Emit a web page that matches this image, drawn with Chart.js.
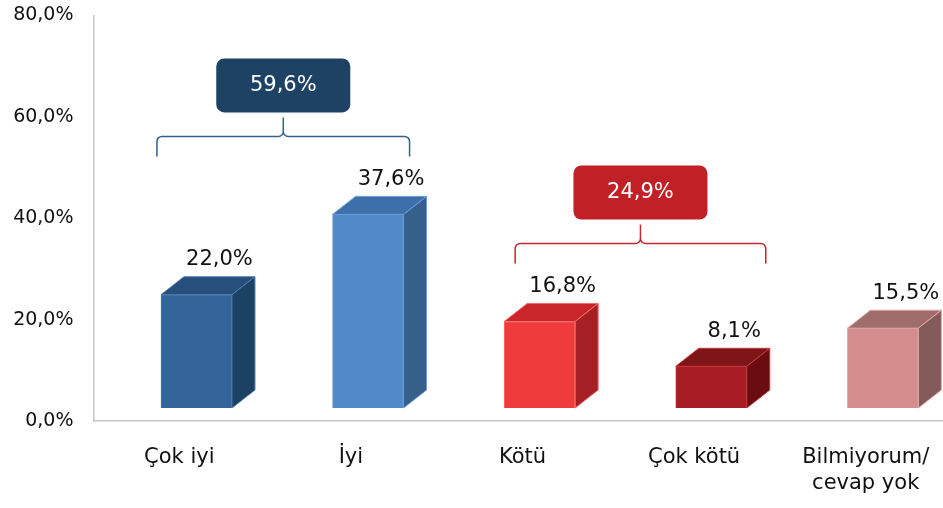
<!DOCTYPE html>
<html>
<head>
<meta charset="utf-8">
<script src="https://cdn.jsdelivr.net/npm/chart.js@4/dist/chart.umd.min.js"></script>
<style>
    html, body { margin: 0; padding: 0; background: #fff; overflow: hidden; }
    #wrap { width: 960px; height: 508px; }
</style>
</head>
<body>
<div id="wrap"><canvas id="chart"></canvas></div>
<script>
const CATEGORIES = ['Çok iyi', 'İyi', 'Kötü', 'Çok kötü', ['Bilmiyorum/', 'cevap yok']];
const VALUES = [22.0, 37.6, 16.8, 8.1, 15.5];
const Y_TICKS = [0, 20, 40, 60, 80];
const GROUPS = [[0, 1], [2, 3]];

const FRONT = ['#34659a', '#5189c9', '#ef3b3b', '#a81d23', '#d48c8c'];
const TOP = ['#274f7b', '#3d70a8', '#c8262b', '#7e1519', '#a06d6d'];
const SIDE = ['#1b4163', '#365f8c', '#a52024', '#6a0c10', '#835a5a'];
const EDGE = ['#4a7bb0', '#6a9ddb', '#f56a6a', '#c4383d', '#e3a7a7'];
const GROUP_FILL = ['#1d4263', '#c22027'];
const GROUP_LINE = ['#34618a', '#c4282e'];
const BRACE_PAD = [[-4, 6], [11, 19]];

const FONT = 'DejaVu Sans';
const DX = 23, DY = 18;

function pct(v) {
    return v.toFixed(1).replace('.', ',') + '%';
}

function poly(ctx, pts, fill, stroke) {
    ctx.beginPath();
    ctx.moveTo(pts[0][0], pts[0][1]);
    for (let p of pts.slice(1))
        ctx.lineTo(p[0], p[1]);
    ctx.closePath();
    ctx.fillStyle = fill;
    ctx.fill();
    ctx.strokeStyle = stroke;
    ctx.lineWidth = 1;
    ctx.stroke();
}

function drawBrace(ctx, x1, x2, y, color) {
    let r = 5, xm = (x1 + x2) / 2;

    ctx.beginPath();
    ctx.moveTo(x1, y + 20);
    ctx.lineTo(x1, y + r);
    ctx.arcTo(x1, y, x1 + r, y, r);
    ctx.lineTo(xm - r, y);
    ctx.arcTo(xm, y, xm, y - r, r);
    ctx.lineTo(xm, y - 19);
    ctx.moveTo(xm, y - r);
    ctx.arcTo(xm, y, xm + r, y, r);
    ctx.lineTo(x2 - r, y);
    ctx.arcTo(x2, y, x2, y + r, r);
    ctx.lineTo(x2, y + 20);
    ctx.strokeStyle = color;
    ctx.lineWidth = 1.5;
    ctx.stroke();
}

const box3d = {
    id: 'box3d',
    afterDatasetsDraw(chart) {
        let ctx = chart.ctx;
        let bars = chart.getDatasetMeta(0).data;

        ctx.save();

        bars.forEach((bar, i) => {
            let { x, y, base, width } = bar.getProps(['x', 'y', 'base', 'width'], true);
            let l = x - width / 2, r = x + width / 2;

            poly(ctx, [[l, y], [r, y], [r + DX, y - DY], [l + DX, y - DY]], TOP[i], EDGE[i]);
            poly(ctx, [[r, y], [r + DX, y - DY], [r + DX, base - DY], [r, base]], SIDE[i], EDGE[i]);

            ctx.fillStyle = '#111';
            ctx.font = '21px "' + FONT + '"';
            ctx.textAlign = 'center';
            ctx.textBaseline = 'middle';
            ctx.fillText(pct(VALUES[i]), x + DX, y - DY - 17);
        });

        GROUPS.forEach((group, g) => {
            let a = bars[group[0]], b = bars[group[group.length - 1]];
            let x1 = a.x - a.width / 2 + BRACE_PAD[g][0];
            let x2 = b.x + b.width / 2 + BRACE_PAD[g][1];
            let top = Math.min(...group.map(idx => bars[idx].y)) - DY;
            let y = top - 60;
            let xm = (x1 + x2) / 2;
            let total = group.reduce((acc, idx) => acc + VALUES[idx], 0);

            drawBrace(ctx, x1, x2, y, GROUP_LINE[g]);

            ctx.beginPath();
            ctx.roundRect(xm - 67, y - 24 - 54, 134, 54, 8);
            ctx.fillStyle = GROUP_FILL[g];
            ctx.fill();

            ctx.fillStyle = '#fff';
            ctx.font = '21px "' + FONT + '"';
            ctx.textAlign = 'center';
            ctx.textBaseline = 'middle';
            ctx.fillText(pct(total), xm, y - 24 - 27);
        });

        ctx.restore();
    }
};

new Chart(document.getElementById('chart'), {
    type: 'bar',
    plugins: [box3d],
    data: {
        labels: CATEGORIES,
        datasets: [{
            data: VALUES.map((v, i) => ({ x: i, y: v })),
            xAxisID: 'x2',
            yAxisID: 'y2',
            backgroundColor: FRONT,
            borderColor: EDGE,
            borderWidth: 1,
            barThickness: 71
        }]
    },
    options: {
        responsive: true,
        maintainAspectRatio: false,
        animation: false,
        layout: {
            padding: { top: 15.5, right: 8.5, left: 0, bottom: 0 }
        },
        scales: {
            x: {
                type: 'category',
                offset: true,
                grid: { display: false, drawTicks: false },
                border: { display: true, color: '#c8c8c8', width: 1.5 },
                ticks: {
                    color: '#111',
                    padding: 23,
                    maxRotation: 0,
                    autoSkip: false,
                    font: { family: FONT, size: 21, lineHeight: 1.25 }
                },
                afterFit: scale => { scale.height = 87; }
            },
            x2: {
                type: 'linear',
                display: false,
                offset: false,
                min: -0.6,
                max: 4.4
            },
            y: {
                type: 'linear',
                min: 0,
                max: 80,
                grid: { display: false, drawTicks: false },
                border: { display: true, color: '#c8c8c8', width: 1.5 },
                afterBuildTicks: scale => { scale.ticks = Y_TICKS.map(v => ({ value: v })); },
                ticks: {
                    color: '#111',
                    padding: 20,
                    font: { family: FONT, size: 19 },
                    callback: v => pct(v)
                },
                afterFit: scale => {
                    scale.width = 93.5;
                    scale.paddingTop = 0;
                    scale.paddingBottom = 0;
                }
            },
            y2: {
                type: 'linear',
                display: false,
                min: -2.52,
                max: 76.22
            }
        },
        plugins: {
            legend: { display: false },
            tooltip: { enabled: false }
        }
    }
});
</script>
</body>
</html>
